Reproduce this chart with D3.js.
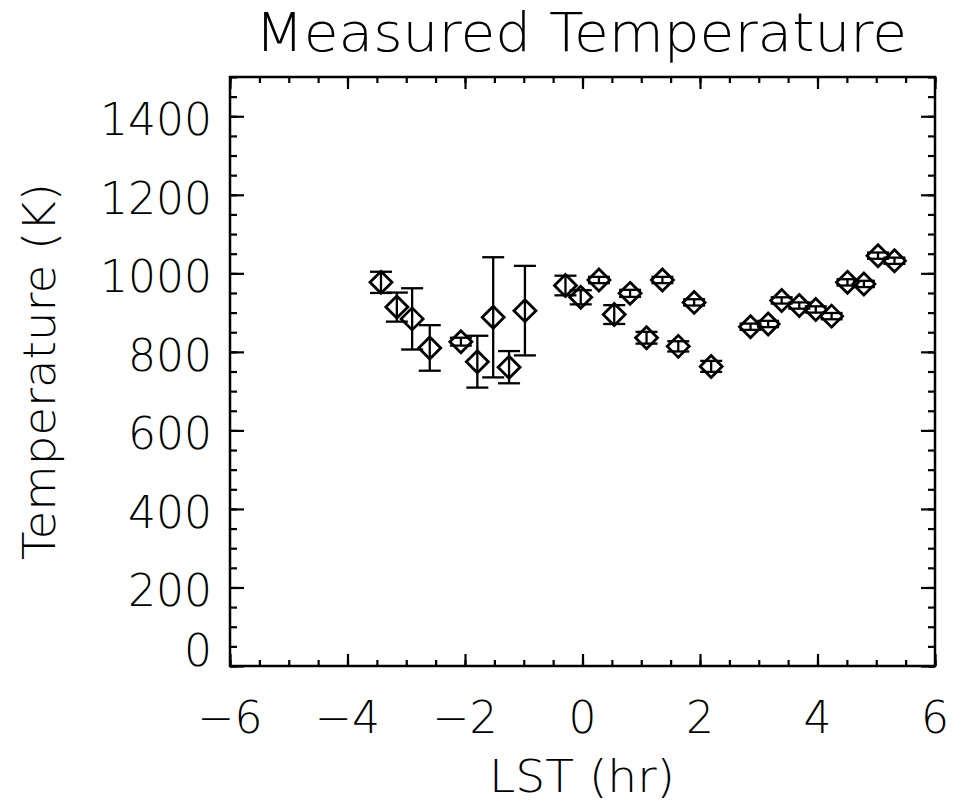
<!DOCTYPE html>
<html>
<head>
<meta charset="utf-8">
<script src="https://cdn.jsdelivr.net/npm/d3@7"></script>
<style>
  html, body { margin: 0; padding: 0; background: #fff; }
  svg text { font-family: "DejaVu Sans", "Liberation Sans", sans-serif; font-weight: 200; fill: #000; }
</style>
</head>
<body>
<svg id="chart" width="963" height="802"></svg>
<script>
// LST (hr) of each measurement
const lst = [-3.43, -3.16, -2.90, -2.60, -2.07, -1.79, -1.52, -1.25, -0.98,
             -0.29, -0.03, 0.28, 0.54, 0.81, 1.09, 1.36, 1.63, 1.90, 2.19,
             2.86, 3.16, 3.39, 3.69, 3.97, 4.24, 4.51, 4.79, 5.03, 5.31];
// Temperature (K)
const temp = [977, 914, 884, 810, 826, 775, 888, 761, 905,
              969, 939, 983, 895, 949, 836, 983, 814, 926, 763,
              864, 871, 931, 918, 908, 891, 977, 973, 1045, 1032];
// 1-sigma error (K)
const tempErr = [27, 37, 78, 58, 10, 66, 153, 41, 114,
                 25, 18, 8, 24, 9, 15, 8, 13, 8, 14,
                 8, 8, 8, 8, 8, 8, 8, 8, 8, 8];

const xTicks = [-6, -4, -2, 0, 2, 4, 6];
const yTicks = [0, 200, 400, 600, 800, 1000, 1200, 1400];

const plotL = 230, plotR = 935, plotT = 77, plotB = 666;

const svg = d3.select('#chart');
svg.append('rect').attr('width', 963).attr('height', 802).attr('fill', '#fff');

const x = d3.scaleLinear().domain([-6, 6]).range([plotL, plotR]);
const y = d3.scaleLinear().domain([0, 1500]).range([plotB, plotT]);

const xMinor = d3.range(-6, 6.001, 0.5);
const yMinor = d3.range(0, 1500.001, 50);

// ticks on all four sides, pointing inward
function tickAxis(axisFn, scale, values, size, tx, ty) {
    svg.append('g')
        .attr('transform', `translate(${tx},${ty})`)
        .call(axisFn(scale).tickValues(values).tickSizeInner(size).tickSizeOuter(0).tickFormat(''))
        .call((g) => g.select('.domain').remove())
        .call((g) => g.selectAll('line').attr('stroke', '#000').attr('stroke-width', 2.2));
}
tickAxis(d3.axisBottom, x, xMinor, -6, 0, plotB);
tickAxis(d3.axisBottom, x, xTicks, -12, 0, plotB);
tickAxis(d3.axisTop, x, xMinor, -6, 0, plotT);
tickAxis(d3.axisTop, x, xTicks, -12, 0, plotT);
tickAxis(d3.axisLeft, y, yMinor, -7, plotL, 0);
tickAxis(d3.axisLeft, y, yTicks, -14, plotL, 0);
tickAxis(d3.axisRight, y, yMinor, -7, plotR, 0);
tickAxis(d3.axisRight, y, yTicks, -14, plotR, 0);

svg.append('rect')
    .attr('x', plotL).attr('y', plotT)
    .attr('width', plotR - plotL).attr('height', plotB - plotT)
    .attr('fill', 'none').attr('stroke', '#000').attr('stroke-width', 2.5);

// tick labels
svg.append('g').selectAll('text')
    .data(xTicks)
    .join('text')
    .attr('x', (d) => x(d))
    .attr('y', 733)
    .attr('text-anchor', 'middle')
    .attr('font-size', 44)
    .text((d) => (d < 0 ? '\u2212' + Math.abs(d) : String(d)));

svg.append('g').selectAll('text')
    .data(yTicks)
    .join('text')
    .attr('x', 212)
    .attr('y', (d) => (d === 0 ? y(d) : y(d) + 19))
    .attr('text-anchor', 'end')
    .attr('font-size', 44)
    .text((d) => d);

// titles
svg.append('text')
    .attr('x', 255).attr('y', 51)
    .attr('font-size', 54)
    .attr('textLength', 652).attr('lengthAdjust', 'spacingAndGlyphs')
    .text('Measured Temperature');

svg.append('text')
    .attr('x', 489).attr('y', 792)
    .attr('font-size', 44)
    .attr('textLength', 186).attr('lengthAdjust', 'spacingAndGlyphs')
    .text('LST (hr)');

svg.append('text')
    .attr('transform', 'translate(55,560) rotate(-90)')
    .attr('font-size', 44)
    .attr('textLength', 377).attr('lengthAdjust', 'spacingAndGlyphs')
    .text('Temperature (K)');

// error bars
const pts = lst.map((v, i) => ({ x: v, t: temp[i], e: tempErr[i] }));
const capHalf = 11;

const eb = svg.append('g').attr('stroke', '#000').attr('stroke-width', 2.3).attr('fill', 'none');
eb.selectAll('line.v').data(pts).join('line').attr('class', 'v')
    .attr('x1', (d) => x(d.x)).attr('x2', (d) => x(d.x))
    .attr('y1', (d) => y(d.t - d.e)).attr('y2', (d) => y(d.t + d.e));
eb.selectAll('line.hi').data(pts).join('line').attr('class', 'hi')
    .attr('x1', (d) => x(d.x) - capHalf).attr('x2', (d) => x(d.x) + capHalf)
    .attr('y1', (d) => y(d.t + d.e)).attr('y2', (d) => y(d.t + d.e));
eb.selectAll('line.lo').data(pts).join('line').attr('class', 'lo')
    .attr('x1', (d) => x(d.x) - capHalf).attr('x2', (d) => x(d.x) + capHalf)
    .attr('y1', (d) => y(d.t - d.e)).attr('y2', (d) => y(d.t - d.e));

// diamonds
const r = 11;
svg.append('g').selectAll('path')
    .data(pts)
    .join('path')
    .attr('d', (d) => {
        const cx = x(d.x), cy = y(d.t);
        return `M${cx},${cy - r}L${cx + r},${cy}L${cx},${cy + r}L${cx - r},${cy}Z`;
    })
    .attr('fill', 'none')
    .attr('stroke', '#000')
    .attr('stroke-width', 2.8);
</script>
</body>
</html>
